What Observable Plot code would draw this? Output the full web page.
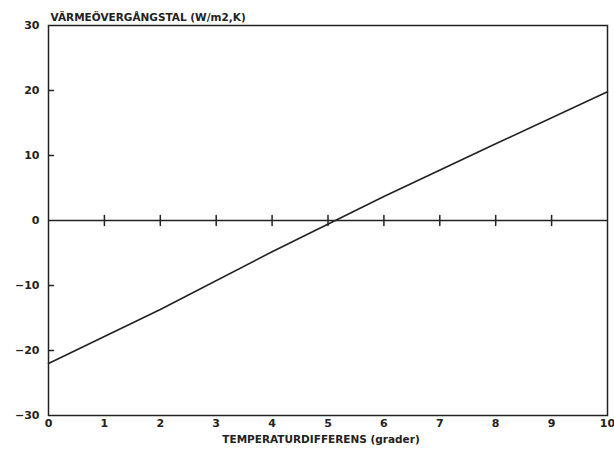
<!DOCTYPE html>
<html><head><meta charset="utf-8">
<script src="https://cdn.jsdelivr.net/npm/d3@7"></script>
<script src="https://cdn.jsdelivr.net/npm/@observablehq/plot@0.6"></script>
<style>body{margin:0;background:#fff}</style></head>
<body><div id="chart"></div>
<script>
const xValues = [0, 2, 4, 6, 8, 10];
const yValues = [-22, -13.7, -4.8, 3.7, 11.8, 19.8];
const xTicks = [0, 1, 2, 3, 4, 5, 6, 7, 8, 9, 10];
const yTicks = [-30, -20, -10, 0, 10, 20, 30];
const xInnerTicks = [1, 2, 3, 4, 5, 6, 7, 8, 9];
const yInnerTicks = [-20, -10, 10, 20];
const yLabel = "VÄRMEÖVERGÅNGSTAL (W/m2,K)";
const xLabel = "TEMPERATURDIFFERENS (grader)";

const data = xValues.map((x, i) => ({x, y: yValues[i]}));
const innerTickData = xInnerTicks.map(x => ({x, y: 0}));
const yTickData = yInnerTicks.map(y => ({x: 0, y}));
const tickShape = {draw(ctx, l) { ctx.moveTo(0, 0); ctx.lineTo(0, -l); }};
const ink = "#222";

const chart = Plot.plot({
  width: 614, height: 453,
  marginLeft: 48, marginRight: 7, marginTop: 25, marginBottom: 38,
  style: {fontFamily: "'DejaVu Sans', sans-serif", fontSize: "11px", color: ink, background: "#fff"},
  x: {domain: [0, 10], label: null},
  y: {domain: [-30, 30], label: null},
  marks: [
    Plot.axisY(yTicks, {tickSize: 0, tickPadding: 9, fontWeight: "bold", label: null}),
    Plot.axisX(xTicks, {tickSize: 0, tickPadding: 4, fontWeight: "bold", label: null}),
    Plot.ruleY([0], {stroke: ink, strokeWidth: 1.5}),
    Plot.vector(innerTickData, {x: "x", y: "y", length: 10, rotate: 0, anchor: "middle", shape: tickShape, stroke: ink, strokeWidth: 1.5}),
    Plot.vector(yTickData, {x: "x", y: "y", length: 5, rotate: 90, anchor: "start", shape: tickShape, stroke: ink, strokeWidth: 1.3}),
    Plot.line(data, {x: "x", y: "y", stroke: ink, strokeWidth: 1.6}),
    Plot.frame({stroke: ink, strokeWidth: 1.5}),
    Plot.text([yLabel], {text: d => d, frameAnchor: "top-left", textAnchor: "start", dx: 2, dy: -12, fontSize: 10.5, fontWeight: "bold", fill: ink}),
    Plot.text([xLabel], {text: d => d, frameAnchor: "bottom", dx: -7, dy: 27, fontSize: 10.5, fontWeight: "bold", fill: ink})
  ]
});
document.getElementById("chart").append(chart);
</script>
</body></html>
